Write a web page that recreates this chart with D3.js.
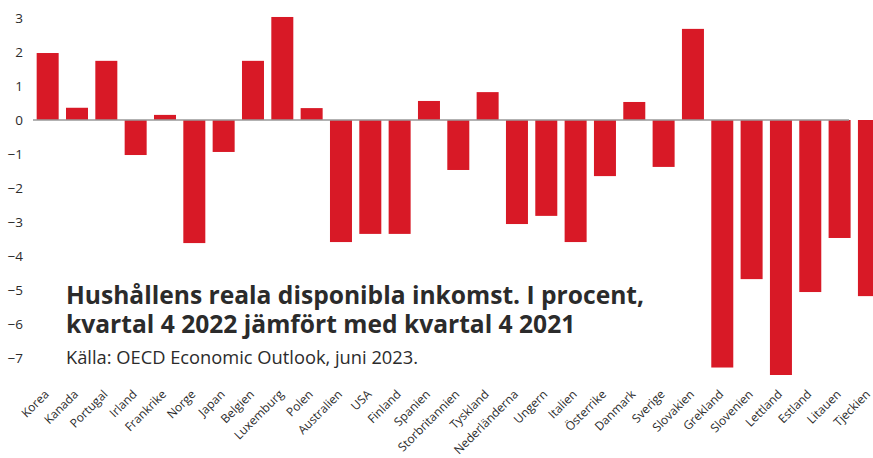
<!DOCTYPE html>
<html>
<head>
<meta charset="utf-8">
<script src="https://cdn.jsdelivr.net/npm/d3@7"></script>
<style>
  body { margin: 0; background: #fff; }
  svg { display: block; }
  text { font-family: "Open Sans", sans-serif; fill: #2b2b2b; }
</style>
</head>
<body>
<div id="chart"></div>
<script>
// Data
var countries = ["Korea", "Kanada", "Portugal", "Irland", "Frankrike", "Norge", "Japan",
  "Belgien", "Luxemburg", "Polen", "Australien", "USA", "Finland", "Spanien",
  "Storbritannien", "Tyskland", "Nederländerna", "Ungern", "Italien", "Österrike",
  "Danmark", "Sverige", "Slovakien", "Grekland", "Slovenien", "Lettland", "Estland",
  "Litauen", "Tjeckien"];
var values = [1.97, 0.36, 1.74, -1.03, 0.15, -3.62, -0.94,
  1.74, 3.03, 0.35, -3.59, -3.35, -3.35, 0.56,
  -1.47, 0.82, -3.06, -2.82, -3.59, -1.65,
  0.53, -1.38, 2.68, -7.28, -4.68, -7.5, -5.06,
  -3.47, -5.18];
var yTicks = [3, 2, 1, 0, -1, -2, -3, -4, -5, -6, -7];
var title = ["Hushållens reala disponibla inkomst. I procent,",
  "kvartal 4 2022 jämfört med kvartal 4 2021"];
var source = "Källa: OECD Economic Outlook, juni 2023.";

var width = 873, height = 458;

var svg = d3.select("#chart").append("svg")
  .attr("width", width)
  .attr("height", height);

// scales
var x = d3.scaleBand()
  .domain(countries)
  .range([33, 883.6])
  .paddingInner(0.25)
  .paddingOuter(0.125);

var y = d3.scaleLinear()
  .domain([-7, 3])
  .range([358, 18]);

// bars
svg.selectAll("rect.bar").data(values).enter().append("rect")
  .attr("class", "bar")
  .attr("x", function(d, i) { return x(countries[i]); })
  .attr("width", x.bandwidth())
  .attr("y", function(d) { return y(Math.max(0, d)); })
  .attr("height", function(d) { return Math.abs(y(d) - y(0)); })
  .attr("fill", "#d81926");

// zero line
svg.append("line")
  .attr("x1", 33).attr("x2", 849)
  .attr("y1", y(0)).attr("y2", y(0))
  .attr("stroke", "#999").attr("stroke-width", 1.5);

// y axis labels (no axis line)
var yAxis = d3.axisLeft(y).tickValues(yTicks).tickSize(0).tickPadding(0);
var gy = svg.append("g").attr("transform", "translate(23,0)").call(yAxis);
gy.select(".domain").remove();
gy.selectAll("text")
  .style("font-family", "'Open Sans', sans-serif")
  .style("font-size", "13.5px")
  .attr("fill", "#2b2b2b");

// x labels, rotated
var xAxis = d3.axisBottom(x).tickSize(0);
var gx = svg.append("g").attr("transform", "translate(0,395)").call(xAxis);
gx.select(".domain").remove();
gx.selectAll("text")
  .style("font-family", "'Open Sans', sans-serif")
  .style("font-size", "12px")
  .attr("fill", "#2b2b2b")
  .attr("text-anchor", "end")
  .attr("dy", 0)
  .attr("y", 0)
  .attr("transform", "translate(2,0) rotate(-45)");

// title (one text, two lines) and source
var t = svg.append("text")
  .attr("y", 304)
  .style("font-size", "24.6px")
  .style("font-weight", "bold");
t.selectAll("tspan").data(title).enter().append("tspan")
  .attr("x", 66)
  .attr("dy", function(d, i) { return i === 0 ? 0 : 29; })
  .text(function(d) { return d; });

svg.append("text")
  .attr("x", 66).attr("y", 364)
  .style("font-size", "18.3px")
  .text(source);
</script>
</body>
</html>
